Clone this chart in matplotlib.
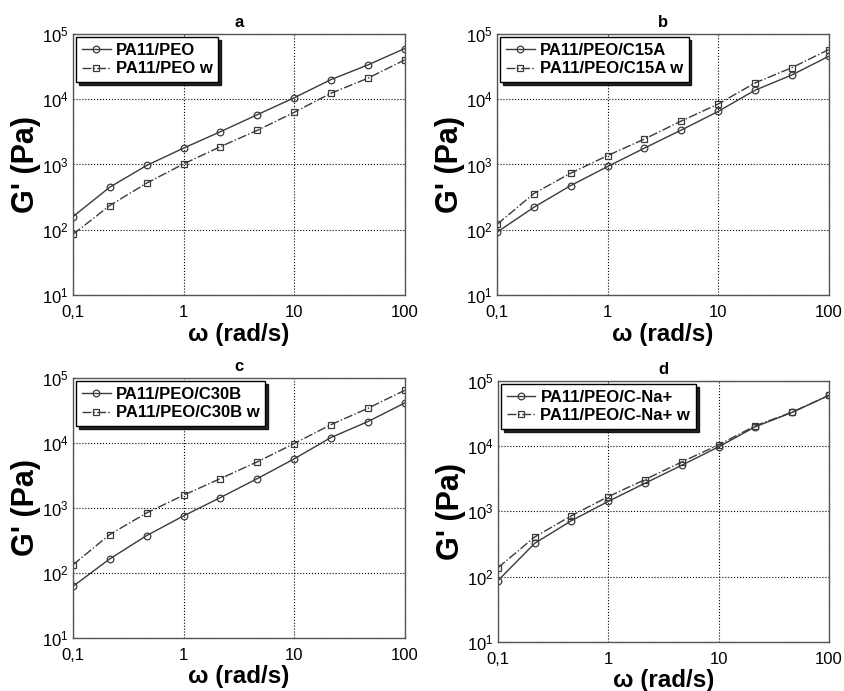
import matplotlib
matplotlib.use("Agg")
import matplotlib.pyplot as plt

plt.rcParams["font.family"] = ["Liberation Sans", "DejaVu Sans"]
plt.rcParams["mathtext.fontset"] = "custom"
plt.rcParams["mathtext.rm"] = "Liberation Sans"
plt.rcParams["mathtext.it"] = "Liberation Sans:italic"
plt.rcParams["mathtext.bf"] = "Liberation Sans:bold"

# ── data ─────────────────────────────────────────────────────────────────────
omega = [0.1, 0.215, 0.464, 1, 2.15, 4.64, 10, 21.5, 46.4, 100]

a_neat = [159, 449, 966, 1780, 3170, 5780, 10500, 19900, 33400, 59600]
a_w    = [85, 235, 518, 1020, 1870, 3330, 6280, 12300, 20900, 39900]

b_neat = [92, 221, 476, 931, 1780, 3370, 6500, 13700, 23500, 45400]
b_w    = [121, 359, 737, 1370, 2450, 4630, 8430, 17700, 30400, 57500]

c_neat = [62, 164, 375, 753, 1440, 2820, 5680, 12100, 21300, 41200]
c_w    = [133, 389, 837, 1570, 2820, 5110, 9770, 19100, 34100, 64600]

d_neat = [87, 323, 720, 1420, 2690, 5080, 9700, 19700, 32700, 59600]
d_w    = [137, 404, 857, 1680, 3060, 5710, 10400, 20400, 33000, 59600]

panels = ["a", "b", "c", "d"]
names  = ["PA11/PEO", "PA11/PEO/C15A", "PA11/PEO/C30B", "PA11/PEO/C-Na+"]
neat   = [a_neat, b_neat, c_neat, d_neat]
wet    = [a_w, b_w, c_w, d_w]

x_ticks  = [0.1, 1, 10, 100]
x_labels = ["0,1", "1", "10", "100"]
y_ticks  = [10, 100, 1000, 10000, 100000]
y_labels = [r"10$^{1}$", r"10$^{2}$", r"10$^{3}$", r"10$^{4}$", r"10$^{5}$"]

# axes rectangles in figure fractions
rects = [
    [0.0865, 0.573, 0.393, 0.378],
    [0.589, 0.573, 0.393, 0.378],
    [0.0865, 0.077, 0.393, 0.376],
    [0.590, 0.071, 0.392, 0.378],
]

LINE = "#3a3a3a"

fig = plt.figure(figsize=(8.44, 6.91), dpi=100)

for rect, tag, name, y1, y2 in zip(rects, panels, names, neat, wet):
    ax = fig.add_axes(rect)
    ax.plot(omega, y1, "-", color=LINE, lw=1.0, marker="o", ms=4.8,
            mfc="none", mec=LINE, mew=0.9, label=name)
    ax.plot(omega, y2, "-.", color=LINE, lw=1.0, marker="s", ms=4.8,
            mfc="none", mec=LINE, mew=0.9, label=name + " w")
    ax.set_xscale("log")
    ax.set_yscale("log")
    ax.set_xlim(0.1, 100)
    ax.set_ylim(10, 1e5)
    ax.set_xticks(x_ticks)
    ax.set_xticklabels(x_labels, fontsize=12)
    ax.set_yticks(y_ticks)
    ax.set_yticklabels(y_labels, fontsize=12)
    ax.minorticks_off()
    ax.tick_params(axis="x", length=0, pad=7)
    ax.tick_params(axis="y", length=0, pad=3)
    ax.grid(True, which="major", color="black", linestyle=":", linewidth=0.8)
    for s in ax.spines.values():
        s.set_color("#555555")
        s.set_linewidth(1.0)
    ax.set_title(tag, fontsize=12, fontweight="bold", pad=5)
    ax.set_xlabel("ω (rad/s)", fontsize=17.5, fontweight="bold", labelpad=2)
    ax.set_ylabel("G' (Pa)", fontsize=22, fontweight="bold", labelpad=1)
    leg = ax.legend(loc="upper left", fontsize=12, frameon=True,
                    fancybox=False,
                    shadow={"color": "black", "alpha": 0.85},
                    borderaxespad=0.2, handlelength=1.7, handletextpad=0.3,
                    borderpad=0.35, labelspacing=0.2)
    leg.get_frame().set_edgecolor("black")
    leg.get_frame().set_linewidth(1.0)
    for t in leg.get_texts():
        t.set_fontweight("bold")

fig.savefig("out.png", dpi=100)
